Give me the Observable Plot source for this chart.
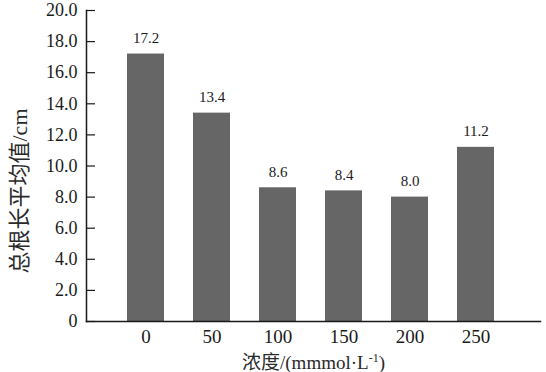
<!DOCTYPE html>
<html>
<head>
<meta charset="utf-8">
<script src="https://cdn.jsdelivr.net/npm/d3@7"></script>
<script src="https://cdn.jsdelivr.net/npm/@observablehq/plot@0.6"></script>
<style>
  html, body { margin: 0; padding: 0; background: #fff; }
  #chart svg { display: block; }
</style>
</head>
<body>
<div id="chart"></div>
<script>
const categories = ["0", "50", "100", "150", "200", "250"];
const values = [17.2, 13.4, 8.6, 8.4, 8.0, 11.2];
const valueLabels = ["17.2", "13.4", "8.6", "8.4", "8.0", "11.2"];
const yTicks = [0, 2, 4, 6, 8, 10, 12, 14, 16, 18, 20];
const yTickLabels = ["0", "2.0", "4.0", "6.0", "8.0", "10.0", "12.0", "14.0", "16.0", "18.0", "20.0"];
const yTitle = "总根长平均值/cm";
const xTitle = "浓度/(mmmol·L-1)";

const data = categories.map((c, i) => ({cat: c, value: values[i], label: valueLabels[i]}));
const serif = "'Liberation Serif', 'Times New Roman', 'Noto Sans CJK SC', serif";

const plot = Plot.plot({
  width: 546,
  height: 372,
  marginLeft: 86,
  marginRight: 6,
  marginTop: 10,
  marginBottom: 51,
  style: {fontFamily: serif, color: "#1a1a1a", background: "#fff"},
  x: {domain: categories, paddingInner: 0.436, paddingOuter: 0.63, align: 0.47},
  y: {domain: [0, 20]},
  marks: [
    Plot.barY(data, {x: "cat", y: "value", fill: "#666666"}),
    Plot.frame({anchor: "left", stroke: "#1a1a1a", strokeWidth: 1.5}),
    Plot.frame({anchor: "bottom", stroke: "#1a1a1a", strokeWidth: 1.5}),
    Plot.axisY({ticks: yTicks, tickSize: 9, dx: 9, tickFormat: () => "", stroke: "#1a1a1a", strokeWidth: 1.2, label: null}),
    Plot.axisY({ticks: yTicks, tickSize: 0, tickPadding: 9, fontSize: 18, label: null,
      tickFormat: d => yTickLabels[yTicks.indexOf(d)]}),
    Plot.axisX({tickSize: 0, tickPadding: 8, fontSize: 19, label: null}),
    Plot.text(data, {x: "cat", y: "value", text: "label", dy: -16, fontSize: 15, fill: "#1a1a1a"}),
    Plot.text([yTitle], {frameAnchor: "left", textAnchor: "middle", lineAnchor: "middle", text: d => d, rotate: -90, dx: -67, dy: 25, fontSize: 22, fill: "#2a2a2a"}),
    Plot.text([xTitle], {frameAnchor: "bottom", textAnchor: "middle", lineAnchor: "middle", text: d => d, dy: 41, fontSize: 19, fill: "#2a2a2a"})
  ]
});

// superscript -1 in the x title
d3.select(plot).selectAll("text").each(function() {
  const t = d3.select(this);
  if (t.text() === xTitle) {
    t.text(null);
    t.append("tspan").text("浓度/(mmmol·L");
    t.append("tspan").attr("font-size", 12).attr("dy", "-0.55em").text("-1");
    t.append("tspan").attr("dy", "0.35em").text(")");
  }
});

document.getElementById("chart").appendChild(plot);
</script>
</body>
</html>
